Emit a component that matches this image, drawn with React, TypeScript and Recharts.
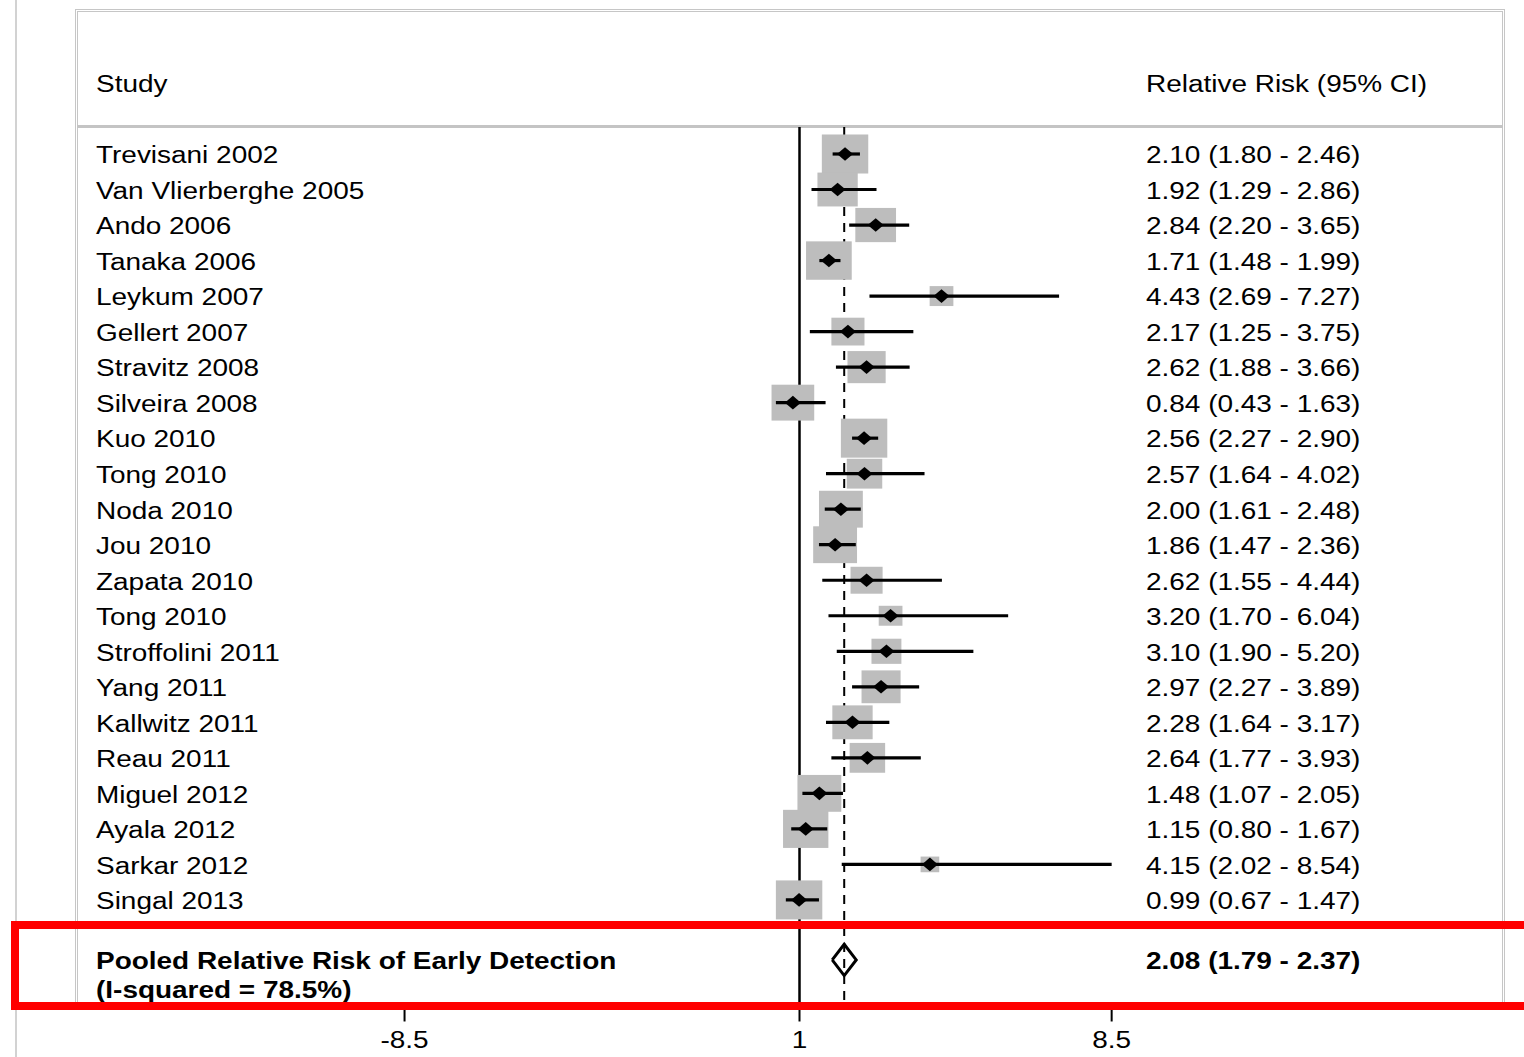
import React from 'react';
import { ScatterChart, Scatter, XAxis, YAxis, ReferenceLine } from 'recharts';

// Study-level relative risks of early detection with 95% confidence intervals
const studies = [
  'Trevisani 2002', 'Van Vlierberghe 2005', 'Ando 2006', 'Tanaka 2006', 'Leykum 2007',
  'Gellert 2007', 'Stravitz 2008', 'Silveira 2008', 'Kuo 2010', 'Tong 2010', 'Noda 2010',
  'Jou 2010', 'Zapata 2010', 'Tong 2010', 'Stroffolini 2011', 'Yang 2011', 'Kallwitz 2011',
  'Reau 2011', 'Miguel 2012', 'Ayala 2012', 'Sarkar 2012', 'Singal 2013',
];
const relRisk = [2.10, 1.92, 2.84, 1.71, 4.43, 2.17, 2.62, 0.84, 2.56, 2.57, 2.00, 1.86, 2.62, 3.20, 3.10, 2.97, 2.28, 2.64, 1.48, 1.15, 4.15, 0.99];
const ciLower = [1.80, 1.29, 2.20, 1.48, 2.69, 1.25, 1.88, 0.43, 2.27, 1.64, 1.61, 1.47, 1.55, 1.70, 1.90, 2.27, 1.64, 1.77, 1.07, 0.80, 2.02, 0.67];
const ciUpper = [2.46, 2.86, 3.65, 1.99, 7.27, 3.75, 3.66, 1.63, 2.90, 4.02, 2.48, 2.36, 4.44, 6.04, 5.20, 3.89, 3.17, 3.93, 2.05, 1.67, 8.54, 1.47];
// percentage weight of each study (box area is proportional to weight)
const weights = [6.5, 4.9, 5.0, 6.3, 1.7, 3.3, 4.4, 5.5, 6.5, 3.8, 5.8, 5.8, 3.1, 1.7, 2.7, 4.6, 4.9, 3.8, 5.8, 6.2, 1.05, 6.5];

const pooledLabel = 'Pooled Relative Risk of Early Detection';
const pooledRR = 2.08;
const pooledLower = 1.79;
const pooledUpper = 2.37;
const iSquared = 78.5;

const xTicks = [-8.54, 1, 8.54];
const xTickLabels = ['-8.5', '1', '8.5'];

// layout
const W = 1524;
const H = 1057;
const FONT = "'Liberation Sans', Arial, Helvetica, sans-serif";
const FS = 23.5;
const SX = 1.19; // horizontal stretch of the rendered figure
const NAME_X = 96;
const RR_X = 1146;
const POOLED_ROW = 22.69;
const BOX_UNIT = 15.3; // px of box height per sqrt(weight)
const DIAMOND_HALF = 0.44; // rows

const fmt = (v: number) => v.toFixed(2);

const rows = studies.map((name, i) => ({
  x: relRisk[i],
  y: i,
  name,
  label: `${fmt(relRisk[i])} (${fmt(ciLower[i])} - ${fmt(ciUpper[i])})`,
  w: weights[i],
}));

// one two-point segment per study for its confidence interval
const ciSegments = studies.map((_, i) => [
  { x: ciLower[i], y: i },
  { x: ciUpper[i], y: i },
]);

const pooledDiamond = [
  { x: pooledLower, y: POOLED_ROW },
  { x: pooledRR, y: POOLED_ROW - DIAMOND_HALF },
  { x: pooledUpper, y: POOLED_ROW },
  { x: pooledRR, y: POOLED_ROW + DIAMOND_HALF },
  { x: pooledLower, y: POOLED_ROW },
];
const pooledRow = [{ x: pooledRR, y: POOLED_ROW }];

function Txt(props: { x: number; y: number; children: React.ReactNode; bold?: boolean; anchor?: 'start' | 'middle' | 'end' }) {
  const { x, y, children, bold, anchor = 'start' } = props;
  return (
    <text
      transform={`translate(${x} ${y}) scale(${SX} 1)`}
      fontFamily={FONT}
      fontSize={FS}
      fontWeight={bold ? 'bold' : 'normal'}
      textAnchor={anchor}
      fill="#000"
    >
      {children}
    </text>
  );
}

// weight box plus the two text columns for each study row
const StudyBox = (p: any) => {
  const { cx, cy, payload } = p;
  const h = BOX_UNIT * Math.sqrt(payload.w);
  const w = h * SX;
  return (
    <g>
      <rect x={cx - w / 2} y={cy - h / 2} width={w} height={h} fill="#bdbdbd" />
      <Txt x={NAME_X} y={cy + 9.3}>{payload.name}</Txt>
      <Txt x={RR_X} y={cy + 9.3}>{payload.label}</Txt>
    </g>
  );
};

const PointMark = (p: any) => {
  const { cx, cy } = p;
  const a = 8;
  const b = 6.8;
  return <path d={`M${cx - a},${cy} L${cx},${cy - b} L${cx + a},${cy} L${cx},${cy + b} Z`} fill="#000" />;
};

const PooledText = (p: any) => {
  const { cy } = p;
  return (
    <g>
      <Txt x={NAME_X} y={cy + 9.5} bold>{pooledLabel}</Txt>
      <Txt x={NAME_X} y={cy + 38.5} bold>{`(I-squared = ${iSquared}%)`}</Txt>
      <Txt x={RR_X} y={cy + 9.5} bold>{`${fmt(pooledRR)} (${fmt(pooledLower)} - ${fmt(pooledUpper)})`}</Txt>
    </g>
  );
};

const Empty = () => <g />;

const AxisTick = (p: any) => {
  const idx = xTicks.indexOf(p.payload.value);
  return <Txt x={p.x} y={p.y + 25} anchor="middle">{xTickLabels[idx]}</Txt>;
};

export default function App() {
  return (
    <div style={{ position: 'absolute', left: 0, top: 0, width: W, height: H, background: '#fff', overflow: 'hidden' }}>
      <div style={{ position: 'absolute', left: 15, top: 0, width: 2, height: H, background: '#d2d2d2' }} />
      <div
        style={{
          position: 'absolute', left: 75, top: 9, width: 1430, height: 996,
          border: '3px double #c6c6c6', boxSizing: 'border-box',
        }}
      />
      <div style={{ position: 'absolute', left: 77, top: 125, width: 1426, height: 3, background: '#c4c4c4' }} />
      <svg style={{ position: 'absolute', left: 0, top: 0 }} width={W} height={130}>
        <Txt x={NAME_X} y={91.5}>Study</Txt>
        <Txt x={RR_X} y={91.5}>Relative Risk (95% CI)</Txt>
      </svg>
      <div style={{ position: 'absolute', left: 0, top: 0 }}>
        <ScatterChart width={W} height={H} margin={{ top: 11.92, right: 20.7, bottom: 10.52, left: 12.9 }}>
          <XAxis
            type="number"
            dataKey="x"
            domain={[-18, 18]}
            ticks={xTicks}
            interval={0}
            axisLine={false}
            tickSize={15}
            tickLine={{ stroke: '#000', strokeWidth: 2 }}
            tick={AxisTick}
            height={40}
          />
          <YAxis type="number" dataKey="y" domain={[-4, 24]} reversed hide />
          <ReferenceLine
            segment={[{ x: 1, y: -0.76 }, { x: 1, y: 24 }]}
            stroke="#000"
            strokeWidth={2.5}
          />
          <ReferenceLine
            segment={[{ x: pooledRR, y: -0.76 }, { x: pooledRR, y: 24 }]}
            stroke="#000"
            strokeWidth={2}
            strokeDasharray="9 7"
          />
          <Scatter data={rows} shape={StudyBox} isAnimationActive={false} />
          {ciSegments.map((seg, i) => (
            <Scatter
              key={`ci-${i}`}
              data={seg}
              shape={Empty}
              line={{ stroke: '#000', strokeWidth: 3.2 }}
              lineJointType="linear"
              isAnimationActive={false}
            />
          ))}
          <Scatter data={rows} shape={PointMark} isAnimationActive={false} />
          <Scatter
            data={pooledDiamond}
            shape={Empty}
            line={{ stroke: '#000', strokeWidth: 3, fill: 'none' }}
            lineJointType="linear"
            isAnimationActive={false}
          />
          <Scatter data={pooledRow} shape={PooledText} isAnimationActive={false} />
        </ScatterChart>
      </div>
      <div
        style={{
          position: 'absolute', left: 11, top: 921, width: 1600, height: 89,
          border: '8px solid #ff0000', boxSizing: 'border-box',
        }}
      />
    </div>
  );
}
